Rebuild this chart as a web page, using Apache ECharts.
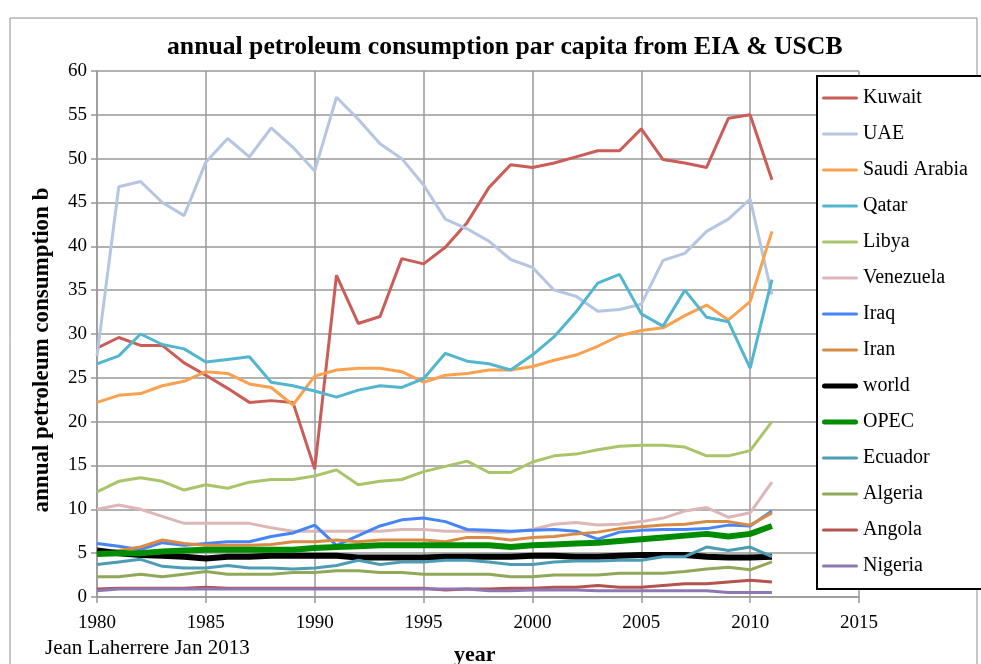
<!DOCTYPE html>
<html>
<head>
<meta charset="utf-8">
<script src="https://cdn.jsdelivr.net/npm/echarts@6/dist/echarts.min.js"></script>
<style>
html,body{margin:0;padding:0;background:#fff;}
#chart{width:981px;height:664px;}
</style>
</head>
<body>
<div id="chart"></div>
<script>
const years = [1980,1981,1982,1983,1984,1985,1986,1987,1988,1989,1990,1991,1992,1993,1994,1995,1996,1997,1998,1999,2000,2001,2002,2003,2004,2005,2006,2007,2008,2009,2010,2011];
const xTicks = [1980,1985,1990,1995,2000,2005,2010,2015];
const yTicks = [0,5,10,15,20,25,30,35,40,45,50,55,60];

const kuwait    = [28.4,29.6,28.7,28.7,26.7,25.3,23.8,22.2,22.4,22.2,14.6,36.7,31.2,32.0,38.6,38.0,39.9,42.7,46.7,49.3,49.0,49.5,50.2,50.9,50.9,53.4,49.9,49.5,49.0,54.6,55.0,47.6];
const uae       = [27.5,46.8,47.4,45.0,43.5,49.6,52.3,50.2,53.5,51.3,48.6,57.0,54.5,51.7,50.0,47.0,43.1,42.0,40.6,38.5,37.6,35.0,34.3,32.6,32.8,33.4,38.4,39.2,41.7,43.1,45.4,34.5];
const saudi     = [22.2,23.0,23.2,24.1,24.6,25.7,25.5,24.3,23.9,21.9,25.2,25.9,26.1,26.1,25.7,24.5,25.3,25.5,25.9,25.9,26.3,27.0,27.6,28.6,29.8,30.4,30.7,32.1,33.3,31.6,33.7,41.7];
const qatar     = [26.6,27.5,30.0,28.8,28.3,26.8,27.1,27.4,24.5,24.1,23.5,22.8,23.6,24.1,23.9,24.9,27.8,26.9,26.6,25.9,27.6,29.7,32.5,35.8,36.8,32.3,30.9,35.0,31.9,31.4,26.1,36.2];
const libya     = [12.0,13.2,13.6,13.2,12.2,12.8,12.4,13.1,13.4,13.4,13.8,14.5,12.8,13.2,13.4,14.3,14.9,15.5,14.2,14.2,15.4,16.1,16.3,16.8,17.2,17.3,17.3,17.1,16.1,16.1,16.7,20.0];
const venezuela = [10.0,10.5,10.0,9.2,8.4,8.4,8.4,8.4,7.9,7.5,7.5,7.5,7.5,7.5,7.7,7.7,7.5,7.5,7.4,7.4,7.7,8.3,8.5,8.2,8.3,8.6,9.0,9.8,10.2,9.1,9.6,13.1];
const iraq      = [6.1,5.8,5.4,6.2,5.9,6.1,6.3,6.3,6.9,7.3,8.2,5.9,7.0,8.1,8.8,9.0,8.6,7.7,7.6,7.5,7.6,7.7,7.5,6.6,7.4,7.6,7.7,7.7,7.8,8.2,8.1,9.8];
const iran      = [5.1,5.3,5.7,6.5,6.1,5.9,5.9,5.9,6.0,6.3,6.3,6.5,6.3,6.5,6.5,6.5,6.3,6.8,6.8,6.5,6.8,6.9,7.2,7.4,7.8,8.0,8.2,8.3,8.6,8.6,8.2,9.6];
const world     = [5.3,5.0,4.8,4.7,4.6,4.4,4.6,4.6,4.7,4.7,4.7,4.7,4.5,4.5,4.5,4.5,4.6,4.6,4.6,4.6,4.7,4.7,4.6,4.6,4.7,4.8,4.8,4.8,4.6,4.5,4.5,4.6];
const opec      = [4.9,5.0,5.0,5.2,5.3,5.4,5.4,5.4,5.4,5.4,5.6,5.7,5.8,5.9,5.9,5.9,5.9,5.9,5.9,5.7,5.9,6.0,6.1,6.2,6.4,6.6,6.8,7.0,7.2,6.9,7.2,8.1];
const ecuador   = [3.7,4.0,4.3,3.5,3.3,3.3,3.6,3.3,3.3,3.2,3.3,3.6,4.2,3.7,4.0,4.0,4.2,4.2,4.0,3.7,3.7,4.0,4.1,4.1,4.2,4.2,4.6,4.6,5.7,5.3,5.7,4.6];
const algeria   = [2.3,2.3,2.6,2.3,2.6,2.9,2.6,2.6,2.6,2.8,2.8,3.0,3.0,2.8,2.8,2.6,2.6,2.6,2.6,2.3,2.3,2.5,2.5,2.5,2.7,2.7,2.7,2.9,3.2,3.4,3.1,4.0];
const angola    = [0.9,1.0,1.0,1.0,1.0,1.1,1.0,1.0,1.0,1.0,1.0,1.0,1.0,1.0,1.0,1.0,0.8,0.9,0.9,1.0,1.0,1.1,1.1,1.3,1.1,1.1,1.3,1.5,1.5,1.7,1.9,1.7];
const nigeria   = [0.7,0.9,0.9,0.9,0.9,0.9,0.9,0.9,0.9,0.9,0.9,0.9,0.9,0.9,0.9,0.9,0.9,0.9,0.7,0.7,0.8,0.8,0.8,0.7,0.7,0.7,0.7,0.7,0.7,0.5,0.5,0.5];

const seriesNames = ['Kuwait','UAE','Saudi Arabia','Qatar','Libya','Venezuela','Iraq','Iran','world','OPEC','Ecuador','Algeria','Angola','Nigeria'];
const seriesValues = [kuwait,uae,saudi,qatar,libya,venezuela,iraq,iran,world,opec,ecuador,algeria,angola,nigeria];
const seriesColors = ['#CB5D58','#B5C6E2','#F9A14F','#52B7CE','#A9C56A','#DDB7B6','#4585F8','#D98B45','#000000','#008C00','#4A9DB5','#90A858','#B4524E','#8D78B5'];
const seriesWidths = [3,3,3,3,3,3,3,3,6,6,3,3,3,3];

const FONT = '"Liberation Serif", "Times New Roman", serif';
const thinIcon = 'path://M1.5,0 L34.5,0 A1.5,1.5 0 0 1 34.5,3 L1.5,3 A1.5,1.5 0 0 1 1.5,0 Z';
const thickIcon = 'path://M2.5,0 L33.5,0 A2.5,2.5 0 0 1 33.5,5 L2.5,5 A2.5,2.5 0 0 1 2.5,0 Z';

const chart = echarts.init(document.getElementById('chart'), null, {renderer:'canvas'});
chart.setOption({
  animation: false,
  backgroundColor: '#fff',
  title: {
    text: 'annual petroleum consumption par capita from EIA & USCB',
    left: 162, top: 29,
    textStyle: {fontFamily: FONT, fontWeight: 'bold', fontSize: 25.7, color: '#000'}
  },
  graphic: [
    {type:'rect', shape:{x:10,y:18,width:967,height:700}, style:{fill:'none', stroke:'#8c8c8c', lineWidth:1}, silent:true, z:-1},
    {type:'text', left: 45, top: 638, style:{text:'Jean Laherrere Jan 2013', font:'21px ' + FONT, fill:'#000'}},
    {type:'text', left: 454, top: 644, style:{text:'year', font:'bold 22px ' + FONT, fill:'#000'}},
    {type:'text', x: 42, y: 350, rotation: Math.PI/2,
     style:{text:'annual petroleum consumption b', font:'bold 23px ' + FONT, fill:'#000', align:'center', verticalAlign:'middle'}}
  ],
  legend: {
    orient: 'vertical',
    left: 817, top: 76,
    data: seriesNames.map((n, i) => ({name: n, icon: seriesWidths[i] > 4 ? thickIcon : thinIcon})),
    itemWidth: 36, itemHeight: 20, itemGap: 16,
    padding: [12, 30, 13, 5],
    borderColor: '#000', borderWidth: 2,
    backgroundColor: '#fff',
    textStyle: {fontFamily: FONT, fontSize: 20, color: '#000', lineHeight: 20}
  },
  grid: {left: 97, right: 122, top: 71, bottom: 67},
  xAxis: {
    type: 'value', min: xTicks[0], max: xTicks[xTicks.length-1], interval: 5,
    axisLine: {show: true, lineStyle: {color: '#999', width: 1.5}},
    axisTick: {show: true, length: 6, lineStyle: {color: '#999', width: 1.5}},
    axisLabel: {fontFamily: FONT, fontSize: 19, color: '#000', margin: 17, formatter: v => String(v)},
    splitLine: {show: true, lineStyle: {color: '#999', width: 1.5}}
  },
  yAxis: {
    type: 'value', min: yTicks[0], max: yTicks[yTicks.length-1], interval: 5,
    axisLine: {show: true, lineStyle: {color: '#999', width: 1.5}},
    axisTick: {show: true, length: 6, lineStyle: {color: '#999', width: 1.5}},
    axisLabel: {fontFamily: FONT, fontSize: 19, color: '#000', margin: 10},
    splitLine: {show: true, lineStyle: {color: '#999', width: 1.5}}
  },
  series: seriesNames.map((name, i) => ({
    name: name,
    type: 'line',
    symbol: 'none',
    data: years.map((y, k) => [y, seriesValues[i][k]]),
    lineStyle: {color: seriesColors[i], width: seriesWidths[i]},
    itemStyle: {color: seriesColors[i]}
  }))
});
</script>
</body>
</html>
